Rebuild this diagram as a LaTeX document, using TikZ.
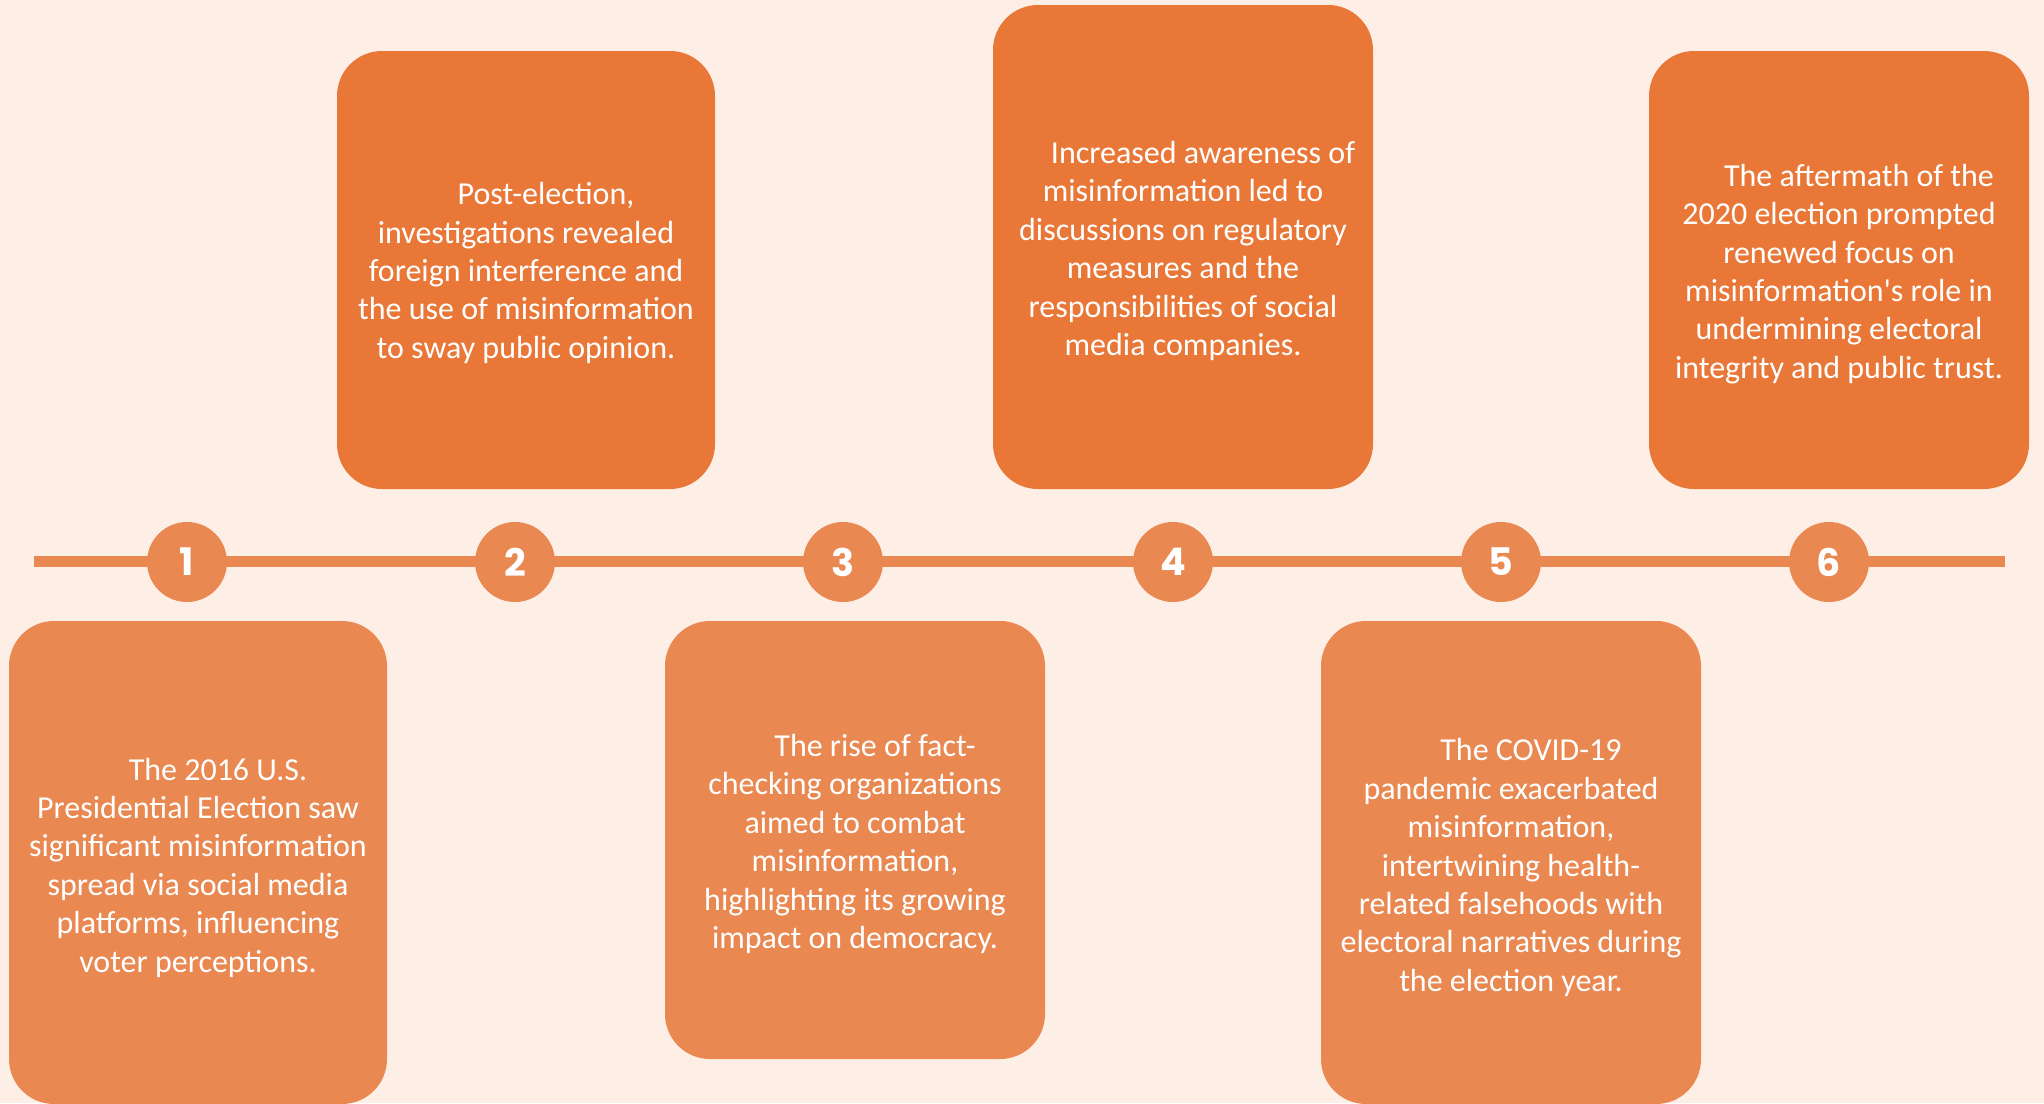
\documentclass[tikz,border=0pt]{standalone}
\usepackage{fontspec}
\newfontfamily\cardfont{Carlito}
\newfontfamily\numfont{Poppins}
\definecolor{paper}{HTML}{FDEFE5}
\definecolor{deeporange}{HTML}{E97838}
\definecolor{softorange}{HTML}{E98851}
\tikzset{
  card/.style={rounded corners=45pt, inner sep=0pt},
  upcard/.style={card, fill=deeporange},
  lowcard/.style={card, fill=softorange},
  cardtext/.style={inner sep=0pt, text=white, align=center,
    font=\cardfont\fontsize{32}{38.4}\selectfont},
  marker/.style={circle, fill=softorange, minimum size=80pt, inner sep=0pt,
    text=white, font=\numfont\bfseries\fontsize{38}{38}\selectfont},
  tline/.style={draw=softorange, line width=11pt}
}
\newcommand{\firstindent}{\hspace*{40pt}}
\begin{document}
\begin{tikzpicture}[x=1pt,y=-1pt]
  \fill[paper] (0,0) rectangle (2044,1103);
  \useasboundingbox (0,0) rectangle (2044,1103);
  \clip (0,0) rectangle (2044,1103);

  % timeline axis
  \coordinate (ls) at (34,561);
  \coordinate (re) at (2005,561);
  \draw[tline] (ls) -- (re);

  % numbered markers
  \node[marker] (c1) at (187,562) {1};
  \node[marker] (c2) at (515,562) {2};
  \node[marker] (c3) at (843,562) {3};
  \node[marker] (c4) at (1173,562) {4};
  \node[marker] (c5) at (1501,562) {5};
  \node[marker] (c6) at (1829,562) {6};

  % event cards
  \node[lowcard, minimum width=378pt, minimum height=483pt] (b1) at (198,862.5) {};
  \node[upcard, minimum width=378pt, minimum height=438pt] (b2) at (526,270) {};
  \node[lowcard, minimum width=380pt, minimum height=438pt] (b3) at (855,840) {};
  \node[upcard, minimum width=380pt, minimum height=484pt] (b4) at (1183,247) {};
  \node[lowcard, minimum width=380pt, minimum height=483pt] (b5) at (1511,862.5) {};
  \node[upcard, minimum width=380pt, minimum height=438pt] (b6) at (1839,270) {};

  % card texts
  \node[cardtext] (t1) at ([yshift=-5pt]b1.center)
    {\firstindent The 2016 U.S.\\Presidential Election saw\\significant misinformation\\spread via social media\\platforms, influencing\\voter perceptions.};
  \node[cardtext] (t2) at ([yshift=-3pt]b2.center)
    {\firstindent Post-election,\\investigations revealed\\foreign interference and\\the use of misinformation\\to sway public opinion.};
  \node[cardtext] (t3) at ([yshift=-4pt]b3.center)
    {\firstindent The rise of fact-\\checking organizations\\aimed to combat\\misinformation,\\highlighting its growing\\impact on democracy.};
  \node[cardtext] (t4) at ([yshift=-4pt]b4.center)
    {\firstindent Increased awareness of\\misinformation led to\\discussions on regulatory\\measures and the\\responsibilities of social\\media companies.};
  \node[cardtext] (t5) at ([yshift=-5pt]b5.center)
    {\firstindent The COVID-19\\pandemic exacerbated\\misinformation,\\intertwining health-\\related falsehoods with\\electoral narratives during\\the election year.};
  \node[cardtext] (t6) at ([yshift=-4pt]b6.center)
    {\firstindent The aftermath of the\\2020 election prompted\\renewed focus on\\misinformation's role in\\undermining electoral\\integrity and public trust.};
\end{tikzpicture}
\end{document}
